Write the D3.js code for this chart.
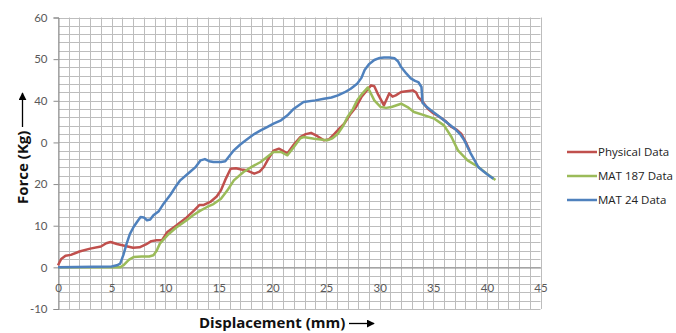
<!DOCTYPE html>
<html>
<head>
<meta charset="utf-8">
<script src="https://cdn.jsdelivr.net/npm/d3@7"></script>
<style>
  body { margin: 0; background: #fff; }
  text { font-family: Lato, "Open Sans", sans-serif; }
  .title, .legend text { font-family: "Open Sans", sans-serif; }
</style>
</head>
<body>
<script>
// values
var physX = [0,0.3,0.7,1.2,2,3,4,4.5,4.9,5.5,6,7,7.6,8.2,8.7,9.2,9.7,10.2,11,12,12.7,13.2,13.6,14.2,14.8,15.2,15.6,16.1,16.6,17.1,17.6,18.3,18.8,19.2,19.6,20.1,20.6,21.4,22,22.6,23.1,23.6,24.2,24.8,25.3,25.8,26.3,26.7,27.3,27.8,28.3,28.8,29.2,29.5,29.8,30.4,30.9,31.2,31.5,32,32.5,33.1,33.4,33.6,33.9,34.5,35,35.6,36.2,36.7,37.2,37.6,38.1,38.4];
var physY = [0.5,2,2.8,3,3.8,4.5,5,5.8,6.1,5.6,5.3,4.7,4.8,5.5,6.3,6.5,6.5,8.5,10,12,13.7,15,15,15.7,17,18.5,21,23.7,23.8,23.5,23.3,22.5,23,24.1,26,28,28.5,27.4,29.5,31.3,32,32.3,31.5,30.5,30.8,32.1,33.5,34.5,36.9,38.5,40.9,42.5,43.7,43.5,41.8,38.9,41.8,41,41.3,42.1,42.3,42.5,42,40.9,40.1,38.1,37,36.1,35,33.7,33,32.1,29.7,28];

var mat187X = [0,5.8,6.1,6.6,7.05,7.8,8.5,8.9,9.2,9.5,10.2,11,12,12.6,13.2,13.9,14.5,15.2,15.8,16.4,17.3,18.1,18.9,19.5,20.1,20.8,21.4,22,22.6,22.9,23.9,25.1,25.6,26.1,26.6,27,27.5,27.9,28.4,28.9,29.5,30.1,30.6,31.1,32,32.6,33.2,34.2,35.1,36,36.7,37.3,38.2,39.2,40,40.8];
var mat187Y = [0,0,0.5,1.8,2.5,2.6,2.6,2.9,4,5.7,7.7,9.5,11.3,12.5,13.5,14.5,15.2,16.5,18.5,20.9,22.9,24.2,25.3,26.5,27.7,27.7,26.9,28.9,31,31.3,30.9,30.5,31,32.1,34,36.1,38,40.1,41.8,43.2,40.1,38.5,38.3,38.5,39.3,38.5,37.3,36.5,35.7,34.1,31.3,28.1,25.7,24.1,22.5,21];

var mat24X = [0,5,5.5,5.8,6.1,6.4,6.7,7.05,7.4,7.7,8,8.3,8.6,8.9,9.4,9.85,10.5,11,11.4,12.3,12.8,13.3,13.7,14.1,14.5,15.2,15.6,16,16.4,17,17.7,18.3,18.9,19.5,20.1,20.8,21.4,22,22.9,24,24.8,25.5,26.1,26.7,27.3,27.9,28.3,28.6,29,29.5,30,30.4,30.9,31.4,31.7,32,32.5,32.9,33.3,33.6,33.9,34,34.4,34.8,35.4,36,36.5,37,37.5,37.9,38.5,39.2,39.7,40.2,40.6];
var mat24Y = [0,0.2,0.5,0.9,3,5.7,8,9.7,11,12.1,12,11.3,11.5,12.5,13.5,15.3,17.5,19.5,20.9,22.9,24,25.7,26,25.5,25.3,25.3,25.5,26.8,28.1,29.5,30.9,32,32.9,33.7,34.5,35.3,36.5,38.1,39.7,40.1,40.5,40.8,41.3,42,42.9,44.1,45.5,47.4,48.8,49.8,50.3,50.4,50.4,50.2,49.5,48.1,46.5,45.4,44.8,44.5,43.3,39.5,38.5,37.7,36.5,35.3,34.3,33.3,32,30.5,27.3,24.1,23,22,21.3];

var seriesNames = ["Physical Data", "MAT 187 Data", "MAT 24 Data"];
var seriesColors = ["#c0504d", "#9bbb59", "#4f81bd"];

var xTicks = [0,5,10,15,20,25,30,35,40,45];
var yTicks = [-10,0,10,20,30,40,50,60];
var yTickLabels = ["-10","0","10","20","0","40","50","60"]; // the "3" is hidden in the picture

var width = 676, height = 333;

var svg = d3.select("body").append("svg")
  .attr("width", width)
  .attr("height", height);

var x = d3.scaleLinear().domain([0, 45]).range([58, 540.5]);
var y = d3.scaleLinear().domain([-10, 60]).range([309, 17.5]);

//grid: every 1 mm across, every 2 kg up
var grid = svg.append("g").attr("class", "grid");
grid.selectAll("line.v").data(d3.range(0, 46, 1))
  .enter().append("line")
  .attr("class", "v")
  .attr("x1", function(d) { return Math.round(x(d)) + 0.5; })
  .attr("x2", function(d) { return Math.round(x(d)) + 0.5; })
  .attr("y1", y(60))
  .attr("y2", y(-10))
  .attr("stroke", "#bdbdbd");
grid.selectAll("line.h").data(d3.range(-10, 61, 2))
  .enter().append("line")
  .attr("class", "h")
  .attr("y1", function(d) { return Math.round(y(d)) + 0.5; })
  .attr("y2", function(d) { return Math.round(y(d)) + 0.5; })
  .attr("x1", x(0))
  .attr("x2", x(45))
  .attr("stroke", "#bdbdbd");

//axes
var yAxis = d3.axisLeft(y).tickValues(yTicks).tickSize(5)
  .tickFormat(function(d, i) { return yTickLabels[i]; });
var yg = svg.append("g")
  .attr("transform", "translate(" + (Math.round(x(0)) + 0.5) + ",0)")
  .call(yAxis);
yg.select(".domain").attr("stroke", "#8c8c8c");
yg.selectAll(".tick line").attr("stroke", "#8c8c8c");
yg.selectAll(".tick text")
  .attr("x", -11)
  .attr("fill", "#595959")
  .style("font-size", "11.5px");

var xAxis = d3.axisBottom(x).tickValues(xTicks).tickSize(0).tickPadding(0);
var xg = svg.append("g")
  .attr("transform", "translate(0," + (Math.round(y(0)) + 0.5) + ")")
  .call(xAxis);
xg.select(".domain").attr("stroke", "#8c8c8c");
xg.selectAll(".tick text")
  .attr("y", 16)
  .attr("fill", "#595959")
  .style("font-size", "11.5px");

//lines
var line = d3.line()
  .x(function(d) { return x(d[0]); })
  .y(function(d) { return y(d[1]); });

var seriesData = [d3.zip(physX, physY), d3.zip(mat187X, mat187Y), d3.zip(mat24X, mat24Y)];
svg.selectAll("path.series").data(seriesData)
  .enter().append("path")
  .attr("class", "series")
  .attr("d", line)
  .attr("fill", "none")
  .attr("stroke", function(d, i) { return seriesColors[i]; })
  .attr("stroke-width", 2.5)
  .attr("stroke-linejoin", "round");

//arrow head
svg.append("defs").append("marker")
  .attr("id", "arrow")
  .attr("viewBox", "0 0 10 10")
  .attr("refX", 9).attr("refY", 5)
  .attr("markerWidth", 8).attr("markerHeight", 8)
  .attr("markerUnits", "userSpaceOnUse")
  .attr("orient", "auto")
  .append("path").attr("d", "M0,0L10,5L0,10z").attr("fill", "#000");

//y title
svg.append("text")
  .attr("class", "title")
  .attr("transform", "translate(28,204) rotate(-90)")
  .attr("font-size", "15px")
  .attr("font-weight", "bold")
  .attr("fill", "#111")
  .text("Force (Kg)");
svg.append("line")
  .attr("x1", 22.5).attr("x2", 22.5)
  .attr("y1", 127).attr("y2", 93)
  .attr("stroke", "#000").attr("stroke-width", 1.3)
  .attr("marker-end", "url(#arrow)");

//x title
svg.append("text")
  .attr("class", "title")
  .attr("x", 199).attr("y", 328)
  .attr("font-size", "15px")
  .attr("font-weight", "bold")
  .attr("fill", "#111")
  .text("Displacement (mm)");
svg.append("line")
  .attr("x1", 349).attr("x2", 374)
  .attr("y1", 323.5).attr("y2", 323.5)
  .attr("stroke", "#000").attr("stroke-width", 1.3)
  .attr("marker-end", "url(#arrow)");

//legend
var legend = svg.selectAll("g.legend").data(seriesNames)
  .enter().append("g")
  .attr("class", "legend")
  .attr("transform", function(d, i) { return "translate(567," + (152 + i * 24) + ")"; });
legend.append("line")
  .attr("x1", 0).attr("x2", 30)
  .attr("stroke", function(d, i) { return seriesColors[i]; })
  .attr("stroke-width", 2.5);
legend.append("text")
  .attr("x", 31).attr("dy", "0.35em")
  .attr("font-size", "11.5px")
  .attr("fill", "#222")
  .text(function(d) { return d; });
</script>
</body>
</html>
